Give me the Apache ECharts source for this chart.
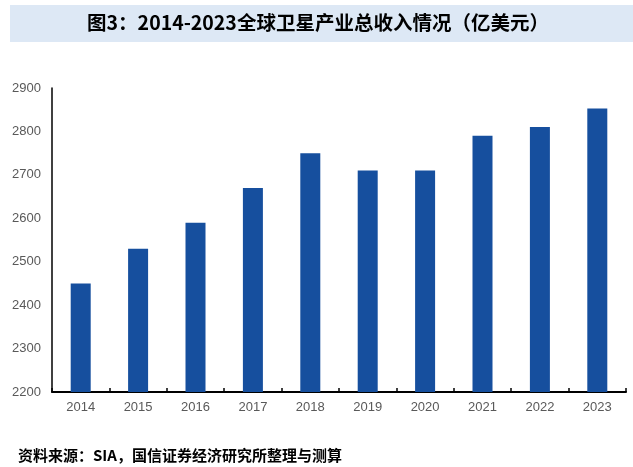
<!DOCTYPE html>
<html>
<head>
<meta charset="utf-8">
<script src="https://cdn.jsdelivr.net/npm/echarts@6/dist/echarts.min.js"></script>
<style>
  html, body { margin: 0; padding: 0; background: #fff; }
  #chart { width: 633px; height: 467px; }
</style>
</head>
<body>
<div id="chart"></div>
<script>
const years = ['2014', '2015', '2016', '2017', '2018', '2019', '2020', '2021', '2022', '2023']
const revenue = [2450, 2530, 2590, 2670, 2750, 2710, 2710, 2790, 2810, 2853]
const titleText = '图3：2014-2023全球卫星产业总收入情况（亿美元）'
const sourceText = '资料来源：SIA，国信证券经济研究所整理与测算'

const chart = echarts.init(document.getElementById('chart'))

chart.setOption({
  backgroundColor: '#fff',
  animation: false,
  graphic: [
    {
      type: 'rect',
      shape: { x: 10, y: 5, width: 623, height: 37 },
      style: { fill: '#dde8f5' },
      silent: true
    },
    {
      type: 'text',
      x: 318,
      y: 23,
      style: {
        text: titleText,
        fill: '#000',
        align: 'center',
        verticalAlign: 'middle',
        font: 'bold 19.5px "Noto Sans CJK SC", sans-serif'
      }
    },
    {
      type: 'text',
      x: 18,
      y: 455,
      style: {
        text: sourceText,
        fill: '#000',
        verticalAlign: 'middle',
        font: 'bold 15px "Noto Sans CJK SC", sans-serif'
      }
    }
  ],
  grid: {
    left: 52,
    right: 7,
    top: 88,
    bottom: 75,
    containLabel: false
  },
  xAxis: {
    type: 'category',
    data: years,
    axisLine: { lineStyle: { color: '#000', width: 2 } },
    axisTick: { show: true, inside: true, length: 4, lineStyle: { color: '#000', width: 1.5 } },
    axisLabel: {
      color: '#595959',
      fontSize: 13,
      fontFamily: '"Liberation Sans", Arial, sans-serif',
      margin: 9
    }
  },
  yAxis: {
    type: 'value',
    min: 2200,
    max: 2900,
    interval: 100,
    axisLine: { show: true, lineStyle: { color: '#000', width: 1.5 } },
    axisTick: { show: false },
    splitLine: { show: false },
    axisLabel: {
      color: '#595959',
      fontSize: 13,
      fontFamily: '"Liberation Sans", Arial, sans-serif',
      margin: 11,
      formatter: v => String(v)
    }
  },
  series: [
    {
      type: 'bar',
      data: revenue,
      barWidth: 20,
      itemStyle: { color: '#164f9e' }
    }
  ]
})
</script>
</body>
</html>
